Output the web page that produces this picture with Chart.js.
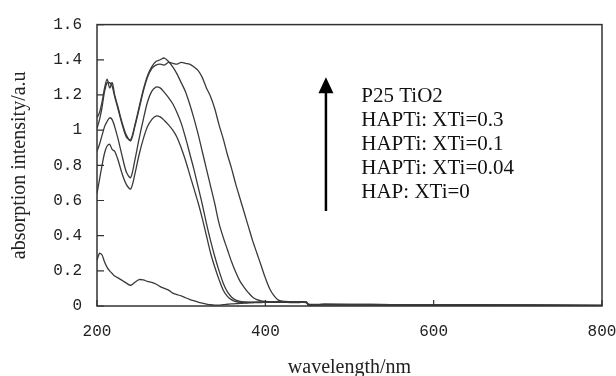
<!DOCTYPE html>
<html>
<head>
<meta charset="utf-8">
<script src="https://cdn.jsdelivr.net/npm/chart.js@4.4.1/dist/chart.umd.min.js"></script>
<style>
  body { margin: 0; background: #fff; }
  #wrap { width: 616px; height: 376px; }
</style>
</head>
<body>
<div id="wrap"><canvas id="uv" width="616" height="376"></canvas></div>
<script>
// wavelength (nm)
let wavelength = [200,203,206,209,212,215,218,221,225,230,235,240,245,250,255,260,265,270,275,280,285,290,295,300,305,310,315,320,325,330,335,340,345,350,355,360,365,370,375,380,385,390,395,400,405,410,415,420,430,440,449,451,470,500,550,600,650,700,750,800];

let seriesNames = ['P25 TiO2', 'HAPTi: XTi=0.3', 'HAPTi: XTi=0.1', 'HAPTi: XTi=0.04', 'HAP: XTi=0'];

let p25 = [1.07,1.10,1.16,1.24,1.29,1.24,1.27,1.20,1.13,1.04,0.97,0.94,1.02,1.12,1.22,1.30,1.35,1.37,1.375,1.37,1.385,1.38,1.375,1.385,1.38,1.375,1.36,1.34,1.30,1.24,1.19,1.12,1.03,0.95,0.86,0.78,0.69,0.61,0.53,0.45,0.37,0.30,0.23,0.16,0.10,0.06,0.035,0.027,0.024,0.023,0.022,0.008,0.009,0.008,0.007,0.007,0.006,0.005,0.004,0.003];
let xti03 = [1.01,1.06,1.13,1.22,1.27,1.27,1.25,1.19,1.12,1.03,0.96,0.945,1.03,1.13,1.23,1.31,1.36,1.39,1.40,1.41,1.39,1.36,1.32,1.27,1.22,1.15,1.07,0.98,0.88,0.78,0.68,0.58,0.47,0.39,0.32,0.25,0.19,0.14,0.105,0.075,0.05,0.036,0.029,0.026,0.025,0.025,0.025,0.025,0.025,0.024,0.022,0.01,0.01,0.009,0.008,0.008,0.007,0.006,0.005,0.004];
let xti01 = [0.88,0.92,0.97,1.02,1.05,1.07,1.06,1.02,0.95,0.85,0.76,0.73,0.83,0.95,1.06,1.16,1.22,1.245,1.24,1.215,1.185,1.15,1.10,1.04,0.96,0.87,0.78,0.68,0.58,0.47,0.37,0.28,0.20,0.13,0.08,0.05,0.033,0.026,0.023,0.022,0.022,0.022,0.023,0.023,0.023,0.023,0.023,0.023,0.024,0.023,0.021,0.009,0.009,0.009,0.008,0.007,0.006,0.005,0.004,0.003];
let xti004 = [0.64,0.72,0.80,0.87,0.91,0.92,0.89,0.88,0.83,0.75,0.69,0.665,0.75,0.86,0.95,1.02,1.06,1.08,1.075,1.055,1.03,1.00,0.96,0.90,0.83,0.75,0.67,0.59,0.50,0.40,0.30,0.22,0.15,0.09,0.055,0.035,0.025,0.021,0.02,0.02,0.02,0.021,0.021,0.022,0.022,0.022,0.022,0.022,0.022,0.022,0.02,0.006,0.007,0.007,0.006,0.006,0.005,0.004,0.003,0.002];
let hap = [0.26,0.30,0.29,0.25,0.22,0.20,0.185,0.17,0.16,0.145,0.13,0.118,0.135,0.15,0.148,0.14,0.135,0.125,0.11,0.10,0.09,0.073,0.065,0.057,0.047,0.038,0.03,0.022,0.016,0.011,0.007,0.005,0.005,0.008,0.01,0.012,0.013,0.015,0.016,0.018,0.019,0.02,0.02,0.021,0.021,0.021,0.021,0.021,0.02,0.02,0.019,0.005,0.006,0.006,0.006,0.005,0.004,0.004,0.003,0.002];

let allSeries = [p25, xti03, xti01, xti004, hap];

// arrow and label block, in data units
let arrowX = 472, arrowFrom = 0.54, arrowTo = 1.30;
let labelX = 514, labelTop = 1.19;

const boxAndNotes = {
    id: 'boxAndNotes',
    afterDraw(chart) {
        const {ctx, scales: {x, y}} = chart;
        // frame follows the scales' own ends
        const left = x.getPixelForValue(x.min), right = x.getPixelForValue(x.max);
        const top = y.getPixelForValue(y.max), bottom = y.getPixelForValue(y.min);
        ctx.save();
        ctx.strokeStyle = '#333';
        ctx.lineWidth = 1.5;
        ctx.strokeRect(left, top, right - left, bottom - top);

        // inward ticks
        ctx.lineWidth = 1.2;
        ctx.beginPath();
        x.ticks.forEach(t => {
            const px = x.getPixelForValue(t.value);
            ctx.moveTo(px, bottom);
            ctx.lineTo(px, bottom - 6);
        });
        y.ticks.forEach(t => {
            const py = y.getPixelForValue(t.value);
            ctx.moveTo(left, py);
            ctx.lineTo(left + 7, py);
        });
        ctx.stroke();

        // arrow
        const ax = x.getPixelForValue(arrowX);
        const y0 = y.getPixelForValue(arrowFrom);
        const y1 = y.getPixelForValue(arrowTo);
        ctx.strokeStyle = '#000';
        ctx.fillStyle = '#000';
        ctx.lineWidth = 2.5;
        ctx.beginPath();
        ctx.moveTo(ax, y0);
        ctx.lineTo(ax, y1 + 10);
        ctx.stroke();
        ctx.beginPath();
        ctx.moveTo(ax, y1);
        ctx.lineTo(ax - 7.5, y1 + 16);
        ctx.lineTo(ax + 7.5, y1 + 16);
        ctx.closePath();
        ctx.fill();

        // series names
        ctx.font = '21px "Liberation Serif"';
        ctx.fillStyle = '#111';
        ctx.textBaseline = 'middle';
        const lx = x.getPixelForValue(labelX);
        const ly = y.getPixelForValue(labelTop);
        chart.data.datasets.forEach((ds, i) => {
            ctx.fillText(ds.label, lx, ly + i * 24);
        });
        ctx.restore();
    }
};

const uv = document.getElementById('uv').getContext('2d');
const uvChart = new Chart(uv, {
    type: 'line',
    data: {
        labels: wavelength,
        datasets: seriesNames.map((name, i) => ({
            label: name,
            data: wavelength.map((w, j) => ({x: w, y: allSeries[i][j]})),
            borderColor: '#3a3a3a',
            borderWidth: 1.3,
            pointRadius: 0,
            tension: 0.3,
            fill: false
        }))
    },
    options: {
        responsive: false,
        animation: false,
        layout: {
            padding: {top: 22, right: 14, left: 0, bottom: 0}
        },
        scales: {
            x: {
                type: 'linear',
                min: 200,
                max: 800,
                afterFit: s => {
                    s.height = 70;
                    s.paddingLeft = 0;
                    s.paddingRight = 0;
                },
                grid: { display: false, drawTicks: false },
                border: { display: false },
                ticks: {
                    stepSize: 200,
                    padding: 16,
                    color: '#222',
                    font: { family: '"Liberation Mono"', size: 16 }
                },
                title: {
                    display: true,
                    text: 'wavelength/nm',
                    color: '#222',
                    padding: { top: 0, bottom: -4 },
                    font: { family: '"Liberation Serif"', size: 20 }
                }
            },
            y: {
                min: 0,
                max: 1.6,
                afterFit: s => { s.width = 97; },
                grid: { display: false, drawTicks: false },
                border: { display: false },
                ticks: {
                    stepSize: 0.2,
                    padding: 15,
                    color: '#222',
                    font: { family: '"Liberation Mono"', size: 16 },
                    callback: v => String(Math.round(v * 10) / 10)
                },
                title: {
                    display: true,
                    text: 'absorption intensity/a.u',
                    color: '#222',
                    padding: { top: 8, bottom: 0 },
                    font: { family: '"Liberation Serif"', size: 20 }
                }
            }
        },
        plugins: {
            legend: { display: false },
            tooltip: { enabled: false }
        }
    },
    plugins: [boxAndNotes]
});
</script>
</body>
</html>
